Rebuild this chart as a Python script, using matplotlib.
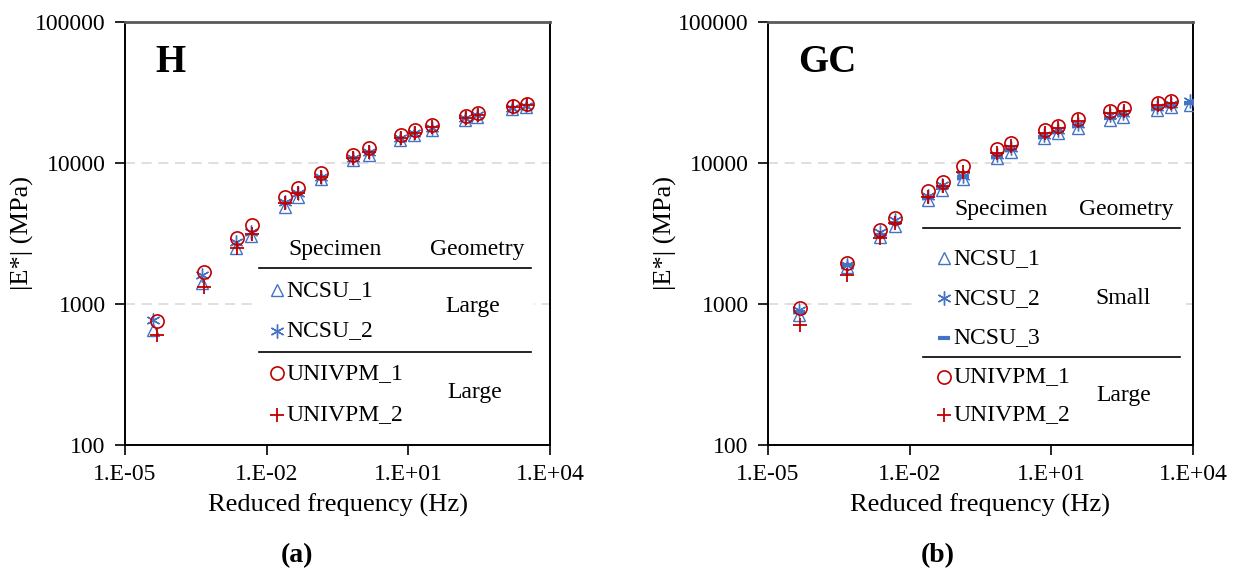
import matplotlib
matplotlib.use("Agg")
import matplotlib.pyplot as plt
from matplotlib.lines import Line2D
from matplotlib.patches import Rectangle

plt.rcParams['font.family'] = ['Liberation Serif', 'DejaVu Serif']

# ---- datos ----
# Panel (a) H
freq_H_ncsu = [4.0e-5, 4.3e-4, 2.2e-3, 4.7e-3, 0.024, 0.046, 0.14, 0.66, 1.45,
               6.8, 13.5, 31, 162, 290, 1580, 3160]
freq_H_univpm = [4.8e-5, 4.7e-4, 2.4e-3, 5.0e-3, 0.0245, 0.047, 0.141, 0.676, 1.48,
                 6.9, 13.8, 31.6, 166, 295, 1620, 3240]
H_ncsu1 = [654, 1400, 2480, 3040, 4900, 5770, 7660, 10500, 11400, 14560, 15800,
           17100, 20200, 21100, 24000, 24800]
H_ncsu2 = [770, 1600, 2770, 3260, 5320, 6160, 8000, 10800, 11900, 15150, 16400,
           17800, 20800, 21800, 24700, 25500]
H_univpm1 = [760, 1680, 2920, 3630, 5770, 6610, 8450, 11400, 12700, 15800, 17100,
             18600, 21500, 22500, 25400, 26200]
H_univpm2 = [600, 1330, 2480, 3160, 5230, 6160, 8000, 10800, 12000, 15100, 16400,
             17900, 20900, 21900, 24800, 25600]

# Panel (b) GC
freq_GC_ncsu = [4.6e-5, 4.6e-4, 2.35e-3, 4.9e-3, 0.0245, 0.049, 0.136, 0.70, 1.39,
                7.1, 13.9, 36, 175, 335, 1750, 3420, 8500]
freq_GC_univpm = [4.8e-5, 4.7e-4, 2.4e-3, 5.0e-3, 0.025, 0.050, 0.138, 0.71, 1.41,
                  7.2, 14.1, 36.3, 178, 339, 1780, 3470]
GC_ncsu1 = [836, 1820, 3000, 3570, 5470, 6440, 7660, 10800, 12000, 14960, 16200,
            17600, 20200, 21300, 23800, 24800, 25800]
GC_ncsu2 = [906, 1880, 3260, 3950, 5840, 6980, 8100, 11400, 12700, 15800, 17100,
            18900, 22000, 22800, 25100, 26000, 27700]
GC_ncsu3 = [880, 1900, 3100, 3750, 5650, 6700, 7900, 11100, 12300, 15400, 16600,
            18200, 21000, 22000, 24400, 25400, 26800]
GC_univpm1 = [931, 1944, 3350, 4060, 6330, 7360, 9530, 12500, 13900, 17100, 18300,
              20500, 23500, 24400, 26800, 27700]
GC_univpm2 = [710, 1607, 2920, 3730, 5770, 6900, 8670, 11700, 13200, 16400, 17600,
              19700, 22600, 23500, 25900, 26800]

xticks = [1e-5, 1e-2, 1e1, 1e4]
xtick_labels = ['1.E-05', '1.E-02', '1.E+01', '1.E+04']
yticks = [100, 1000, 10000, 100000]
ytick_labels = ['100', '1000', '10000', '100000']

BLUE = '#4472C4'
RED = '#C00000'

styles = {
    'NCSU_1': dict(marker='^', ms=9, mfc='none', mec=BLUE, mew=1.0),
    'NCSU_2': dict(marker=(6, 2, 0), ms=10, mfc='none', mec=BLUE, mew=1.0),
    'NCSU_3': dict(marker='_', ms=8, mfc=BLUE, mec=BLUE, mew=3.0),
    'UNIVPM_1': dict(marker='o', ms=9.5, mfc='none', mec=RED, mew=1.2),
    'UNIVPM_2': dict(marker='+', ms=10, mfc='none', mec=RED, mew=1.3),
}

fig = plt.figure(figsize=(12.36, 5.73), dpi=100)
ax1 = fig.add_axes([125 / 1236, 128 / 573, 425 / 1236, 423 / 573])
ax2 = fig.add_axes([768 / 1236, 128 / 573, 425 / 1236, 423 / 573])


def base_axes(ax, title):
    ax.set_xscale('log')
    ax.set_yscale('log')
    ax.set_xlim(1e-5, 1e4)
    ax.set_ylim(100, 100000)
    ax.set_xticks(xticks)
    ax.set_xticklabels(xtick_labels)
    ax.set_yticks(yticks)
    ax.set_yticklabels(ytick_labels)
    ax.minorticks_off()
    ax.tick_params(direction='out', length=7, width=1.2, labelsize=17, pad=7)
    for g in [1000, 10000]:
        ax.axhline(g, color='#d9d9d9', lw=1.2, ls=(0, (6, 4)), zorder=0)
    for s in ['left', 'bottom', 'right']:
        ax.spines[s].set_linewidth(1.4)
        ax.spines[s].set_color('black')
    ax.spines['top'].set_color('#595959')
    ax.spines['top'].set_linewidth(2)
    ax.set_xlabel('Reduced frequency (Hz)', fontsize=19, labelpad=6)
    ax.set_ylabel('|E*| (MPa)', fontsize=19, labelpad=1)
    ax.text(0.072, 0.905, title, transform=ax.transAxes, fontsize=28,
            fontweight='bold', va='center', ha='left')


def legend_table(ax, rows, headers_y, head_x, line_x, line_ys, geo):
    t = ax.transAxes
    ax.text(head_x[0], headers_y, 'Specimen', transform=t, fontsize=17,
            ha='center', va='center', zorder=6)
    ax.text(head_x[1], headers_y, 'Geometry', transform=t, fontsize=17,
            ha='center', va='center', zorder=6)
    for ly in line_ys:
        ax.add_line(Line2D(line_x, [ly, ly], transform=t, color='black',
                           lw=1.2, zorder=6))
    for name, mx, tx, ry in rows:
        ax.add_line(Line2D([mx], [ry], transform=t, ls='none', zorder=6,
                           **styles[name]))
        ax.text(tx, ry, name, transform=t, fontsize=17, ha='left',
                va='center', zorder=6)
    for label, gx, gy in geo:
        ax.text(gx, gy, label, transform=t, fontsize=17, ha='center',
                va='center', zorder=6)


# ---- (a) H ----
base_axes(ax1, 'H')
ax1.plot(freq_H_ncsu, H_ncsu1, ls='none', zorder=3, **styles['NCSU_1'])
ax1.plot(freq_H_ncsu, H_ncsu2, ls='none', zorder=3, **styles['NCSU_2'])
ax1.plot(freq_H_univpm, H_univpm1, ls='none', zorder=4, **styles['UNIVPM_1'])
ax1.plot(freq_H_univpm, H_univpm2, ls='none', zorder=4, **styles['UNIVPM_2'])
ax1.add_patch(Rectangle((0.302, 0.02), 0.66, 0.48, transform=ax1.transAxes,
                        facecolor='white', edgecolor='none', zorder=1))
legend_table(ax1,
             [('NCSU_1', 0.357, 0.380, 0.366),
              ('NCSU_2', 0.357, 0.380, 0.270),
              ('UNIVPM_1', 0.357, 0.380, 0.170),
              ('UNIVPM_2', 0.357, 0.380, 0.071)],
             0.461, (0.494, 0.828), [0.315, 0.955], [0.418, 0.219],
             [('Large', 0.819, 0.327), ('Large', 0.824, 0.124)])

# ---- (b) GC ----
base_axes(ax2, 'GC')
ax2.plot(freq_GC_ncsu, GC_ncsu1, ls='none', zorder=3, **styles['NCSU_1'])
ax2.plot(freq_GC_ncsu, GC_ncsu2, ls='none', zorder=3, **styles['NCSU_2'])
ax2.plot(freq_GC_ncsu, GC_ncsu3, ls='none', zorder=3, **styles['NCSU_3'])
ax2.plot(freq_GC_univpm, GC_univpm1, ls='none', zorder=4, **styles['UNIVPM_1'])
ax2.plot(freq_GC_univpm, GC_univpm2, ls='none', zorder=4, **styles['UNIVPM_2'])
ax2.add_patch(Rectangle((0.354, 0.02), 0.63, 0.57, transform=ax2.transAxes,
                        facecolor='white', edgecolor='none', zorder=1))
legend_table(ax2,
             [('NCSU_1', 0.413, 0.437, 0.441),
              ('NCSU_2', 0.413, 0.437, 0.347),
              ('NCSU_3', 0.413, 0.437, 0.253),
              ('UNIVPM_1', 0.413, 0.437, 0.161),
              ('UNIVPM_2', 0.413, 0.437, 0.071)],
             0.556, (0.549, 0.843), [0.365, 0.970], [0.512, 0.209],
             [('Small', 0.835, 0.347), ('Large', 0.837, 0.118)])

fig.text(297 / 1236, 1 - 556 / 573, '(a)', fontsize=20, fontweight='bold',
         ha='center', va='center')
fig.text(938 / 1236, 1 - 556 / 573, '(b)', fontsize=20, fontweight='bold',
         ha='center', va='center')

fig.savefig('out.png', dpi=100)
